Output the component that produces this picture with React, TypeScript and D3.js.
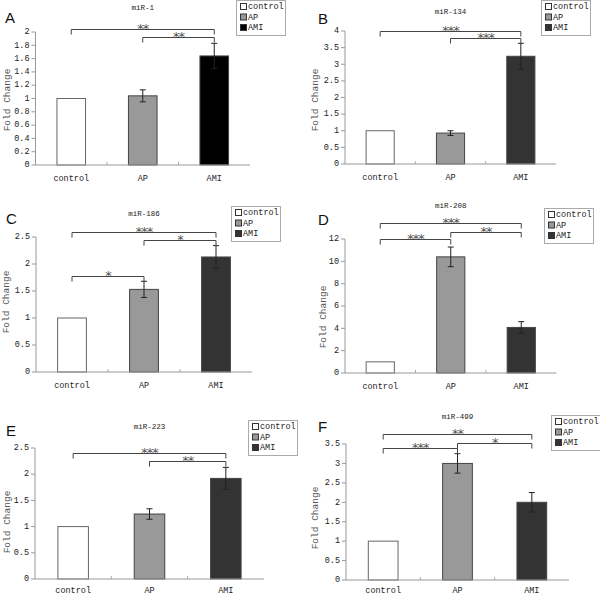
import React from "react";
import * as d3 from "d3";

// ---------- data ----------
const categories = ["control", "AP", "AMI"];
const panelLetters = ["A", "B", "C", "D", "E", "F"];
const panelTitles = ["miR-1", "miR-134", "miR-186", "miR-208", "miR-223", "miR-499"];

const miR1Means = [1, 1.04, 1.64];
const miR1Errors = [0, 0.09, 0.19];
const miR134Means = [1, 0.93, 3.24];
const miR134Errors = [0, 0.07, 0.39];
const miR186Means = [1, 1.53, 2.13];
const miR186Errors = [0, 0.15, 0.21];
const miR208Means = [1, 10.4, 4.08];
const miR208Errors = [0, 0.88, 0.52];
const miR223Means = [1, 1.24, 1.92];
const miR223Errors = [0, 0.1, 0.21];
const miR499Means = [1, 3.0, 2.0];
const miR499Errors = [0, 0.25, 0.25];

const yMaxes = [2, 4, 2.5, 12, 2.5, 3.5];
const yTickSteps = [0.2, 0.5, 0.5, 2, 0.5, 0.5];

// significance brackets: [fromCategory, toCategory, yValue, label]
const miR1Brackets: [number, number, number, string][] = [[0, 2, 2.05, "**"], [1, 2, 1.92, "**"]];
const miR134Brackets: [number, number, number, string][] = [[0, 2, 4.0, "***"], [1, 2, 3.79, "***"]];
const miR186Brackets: [number, number, number, string][] = [[0, 2, 2.59, "***"], [1, 2, 2.44, "*"], [0, 1, 1.78, "*"]];
const miR208Brackets: [number, number, number, string][] = [[0, 2, 13.43, "***"], [1, 2, 12.62, "**"], [0, 1, 12.0, "***"]];
const miR223Brackets: [number, number, number, string][] = [[0, 2, 2.4, "***"], [1, 2, 2.25, "**"]];
const miR499Brackets: [number, number, number, string][] = [[0, 2, 3.76, "**"], [1, 2, 3.53, "*"], [0, 1, 3.4, "***"]];

const allMeans = [miR1Means, miR134Means, miR186Means, miR208Means, miR223Means, miR499Means];
const allErrors = [miR1Errors, miR134Errors, miR186Errors, miR208Errors, miR223Errors, miR499Errors];
const allBrackets = [miR1Brackets, miR134Brackets, miR186Brackets, miR208Brackets, miR223Brackets, miR499Brackets];

// ---------- layout (pixels) ----------
const layouts = [
  { left: 35.5, right: 250, zero: 165, top: 32, letter: [5, 23], legend: [236, 0], ylab: [7, 100], title: 8, catGap: 14 },
  { left: 345, right: 556, zero: 164, top: 31, letter: [318, 24], legend: [541, 0], ylab: [315, 100], title: 12, catGap: 14 },
  { left: 36, right: 252, zero: 372, top: 237, letter: [6, 224], legend: [231, 206], ylab: [6, 302], title: 214, catGap: 14 },
  { left: 345, right: 556.5, zero: 373, top: 239, letter: [318, 225], legend: [544, 208], ylab: [323, 317], title: 206, catGap: 14 },
  { left: 35, right: 264, zero: 579, top: 448, letter: [6, 436], legend: [248, 420], ylab: [7, 522], title: 427, catGap: 12 },
  { left: 346, right: 569, zero: 580, top: 444, letter: [318, 432], legend: [551, 415], ylab: [315, 518], title: 417, catGap: 11 },
];

const amiColors = ["#000000", "#333333", "#333333", "#333333", "#333333", "#333333"];
const FONT = "'Liberation Mono', 'DejaVu Sans Mono', monospace";

function Panel({ idx }: { idx: number }) {
  const L = layouts[idx];
  const means = allMeans[idx];
  const errs = allErrors[idx];
  const brackets = allBrackets[idx];
  const fills = ["#ffffff", "#999999", amiColors[idx]];
  const x = d3.scaleBand<string>().domain(categories).range([L.left, L.right]).paddingInner(0).paddingOuter(0);
  const y = d3.scaleLinear().domain([0, yMaxes[idx]]).range([L.zero, L.top]);
  const ticks = d3.range(0, yMaxes[idx] + 1e-9, yTickSteps[idx]);
  const bw = x.bandwidth() / 2.5;
  const cx = (c: string) => (x(c) as number) + x.bandwidth() / 2;
  const fmt = (v: number) => String(+v.toFixed(1));
  const [lx, ly] = L.legend;

  return (
    <g>
      {/* panel letter */}
      <text x={L.letter[0]} y={L.letter[1]} fontFamily="Arial, 'Liberation Sans', sans-serif" fontSize={15} fill="#111">
        {panelLetters[idx]}
      </text>
      {/* title */}
      <text x={(L.left + L.right) / 2} y={L.title} textAnchor="middle" dominantBaseline="middle" fontFamily={FONT} fontSize={7.5} fill="#222">
        {panelTitles[idx]}
      </text>
      {/* y axis label */}
      <text transform={`translate(${L.ylab[0]},${L.ylab[1]}) rotate(-90)`} textAnchor="middle" dominantBaseline="middle" fontFamily={FONT} fontSize={9.5} fill="#555">
        Fold Change
      </text>
      {/* y axis */}
      <line x1={L.left} x2={L.left} y1={y(0)} y2={y(yMaxes[idx])} stroke="#999" />
      {ticks.map((t) => (
        <g key={t}>
          <line x1={L.left - 4} x2={L.left} y1={y(t)} y2={y(t)} stroke="#999" />
          <text x={L.left - 6} y={y(t)} textAnchor="end" dominantBaseline="middle" fontFamily={FONT} fontSize={8.5} fill="#222">
            {fmt(t)}
          </text>
        </g>
      ))}
      {/* bars */}
      {categories.map((c, i) => (
        <rect key={c} x={cx(c) - bw / 2} y={y(means[i])} width={bw} height={y(0) - y(means[i])} fill={fills[i]} stroke={i === 0 ? "#666" : "#444"} strokeWidth={1} />
      ))}
      {/* x axis */}
      <line x1={L.left} x2={L.right} y1={y(0)} y2={y(0)} stroke="#999" />
      {categories.slice(1).map((c) => (
        <line key={c} x1={x(c) as number} x2={x(c) as number} y1={y(0)} y2={y(0) - 3} stroke="#aaa" />
      ))}
      {categories.map((c) => (
        <text key={c} x={cx(c)} y={y(0) + L.catGap} textAnchor="middle" dominantBaseline="middle" fontFamily={FONT} fontSize={8.5} fill="#222">
          {c}
        </text>
      ))}
      {/* error bars */}
      {categories.map((c, i) =>
        errs[i] > 0 ? (
          <g key={c} stroke="#222" strokeWidth={1}>
            <line x1={cx(c)} x2={cx(c)} y1={y(means[i] - errs[i])} y2={y(means[i] + errs[i])} />
            <line x1={cx(c) - 3} x2={cx(c) + 3} y1={y(means[i] + errs[i])} y2={y(means[i] + errs[i])} />
            <line x1={cx(c) - 3} x2={cx(c) + 3} y1={y(means[i] - errs[i])} y2={y(means[i] - errs[i])} />
          </g>
        ) : null
      )}
      {/* significance brackets */}
      {brackets.map(([a, b, v, lab], k) => {
        const x1 = cx(categories[a]);
        const x2 = cx(categories[b]);
        const yy = Math.round(y(v)) + 0.5;
        return (
          <g key={k}>
            <path d={`M${x1},${yy + 5}V${yy}H${x2}V${yy + 5}`} fill="none" stroke="#444" strokeWidth={1} />
            <text x={(x1 + x2) / 2} y={yy + 3} textAnchor="middle" fontFamily="'DejaVu Sans', sans-serif" fontSize={13} letterSpacing={-1} fill="#555">
              {lab}
            </text>
          </g>
        );
      })}
      {/* legend */}
      <rect x={lx + 0.5} y={ly + 0.5} width={49} height={35} fill="#fff" stroke="#aaa" />
      {categories.map((c, i) => (
        <g key={c}>
          <rect x={lx + 4.5} y={ly + 3.5 + i * 10.5} width={6} height={6} fill={fills[i]} stroke="#333" />
          <text x={lx + 12} y={ly + 7 + i * 10.5} dominantBaseline="middle" fontFamily={FONT} fontSize={8.5} fill="#222">
            {c}
          </text>
        </g>
      ))}
    </g>
  );
}

export default function App() {
  return (
    <svg width={600} height={597} style={{ position: "absolute", left: 0, top: 0, background: "#fff" }}>
      <rect width={600} height={597} fill="#fff" />
      {[0, 1, 2, 3, 4, 5].map((i) => (
        <Panel key={i} idx={i} />
      ))}
    </svg>
  );
}
